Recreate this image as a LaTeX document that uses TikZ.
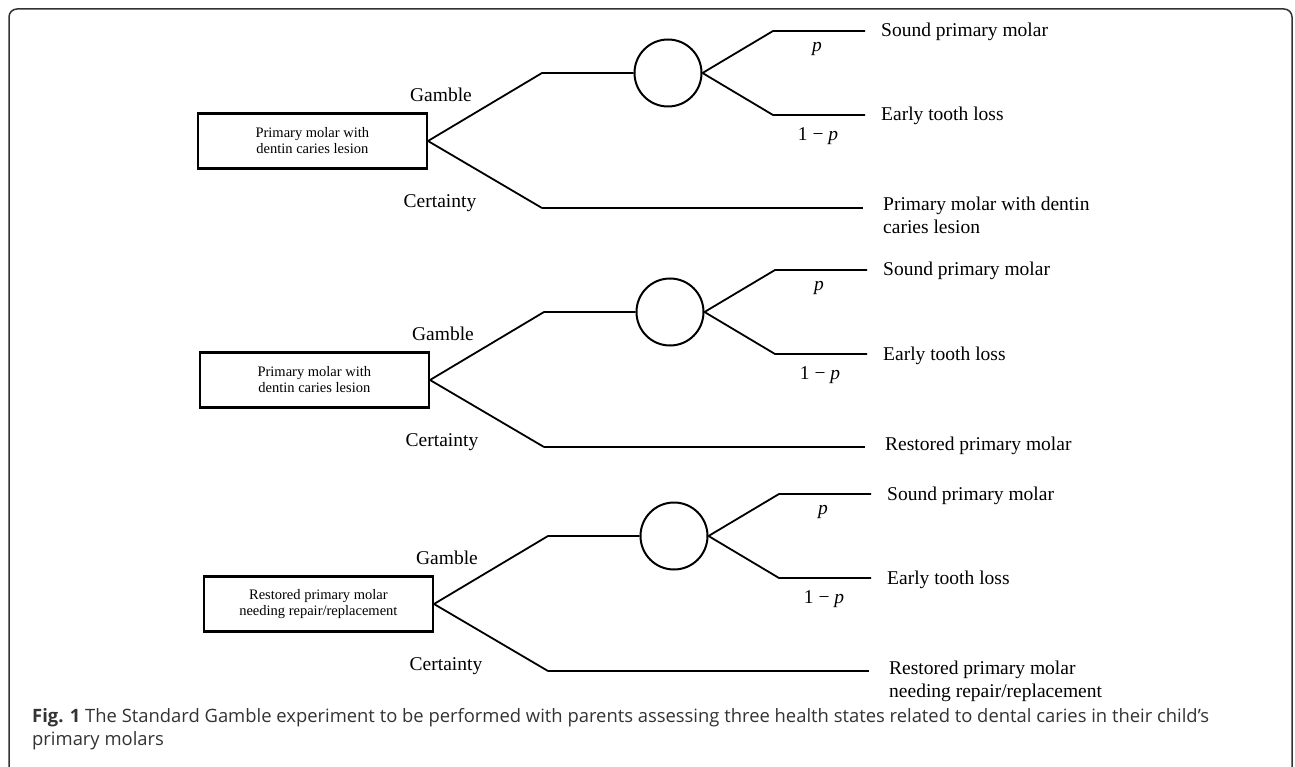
\documentclass[tikz,border=0pt]{standalone}
\usepackage{fontspec}
\setmainfont{Liberation Serif}
\newfontfamily\capfont{Open Sans}
\definecolor{framegray}{HTML}{333333}
\definecolor{captext}{HTML}{333333}
\tikzset{
  br/.style={line width=1.8pt},
  certline/.style={line width=2.6pt},
  statebox/.style={draw, line width=2.3pt, minimum width=229pt, minimum height=55pt,
    inner sep=0pt, align=center, anchor=east, font=\fontsize{14.5}{16}\selectfont},
  chance/.style={draw, circle, line width=2pt, minimum size=67pt, inner sep=0pt},
  lab/.style={font=\fontsize{19.5}{23}\selectfont, inner sep=0pt},
  outlab/.style={lab, anchor=base west, align=left},
}
% #1 id, #2 bx, #3 by, #4 box text, #5 certainty outcome, #6 extra lines offset
\newcommand\sgtree[6]{%
  \node[statebox] (#1box) at (#2,#3) {#4};
  \coordinate (#1ge) at ({#2+114},{#3-68});
  \coordinate (#1ce) at ({#2+114},{#3+67});
  \node[chance] (#1c) at ({#2+240},{#3-68}) {};
  \coordinate (#1ue) at ({#2+345},{#3-110});
  \coordinate (#1uend) at ({#2+437},{#3-110});
  \coordinate (#1le) at ({#2+345},{#3-26});
  \coordinate (#1lend) at ({#2+437},{#3-26});
  \coordinate (#1cend) at ({#2+435},{#3+67});
  \draw[br] (#1box.east) -- (#1ge) -- (#1c.west);
  \draw[br] (#1box.east) -- (#1ce);
  \draw[certline] (#1ce) -- (#1cend);
  \draw[br] (#1c.east) -- (#1ue) -- (#1uend);
  \draw[br] (#1c.east) -- (#1le) -- (#1lend);
  \node[lab] (#1gl) at ({#2+13},{#3-46}) {Gamble};
  \node[lab] (#1cl) at ({#2+12},{#3+62}) {Certainty};
  \node[lab] (#1p) at ({#2+389},{#3-92}) {\textit{p}};
  \node[lab] (#1q) at ({#2+390},{#3-5}) {1 − \textit{p}};
  \node[outlab] (#1s) at ({#2+453},{#3-104}) {Sound primary molar};
  \node[outlab] (#1e) at ({#2+453},{#3-20}) {Early tooth loss};
  \node[outlab] (#1o) at ({#2+455},{#3+70+#6}) {#5};
}
\begin{document}
\begin{tikzpicture}[x=1pt,y=-1pt]
  \useasboundingbox (0,0) rectangle (1295,767);
  \fill[white] (0,0) rectangle (1295,767);
  \draw[framegray, line width=1.5pt, rounded corners=8pt]
    (9,775) -- (9,9) -- (1292,9) -- (1292,775);
  \sgtree{a}{428}{141}{Primary molar with\\dentin caries lesion}{Primary molar with dentin\\caries lesion}{23}
  \sgtree{b}{430}{380}{Primary molar with\\dentin caries lesion}{Restored primary molar}{0}
  \sgtree{c}{434}{604}{Restored primary molar\\needing repair/replacement}{Restored primary molar\\needing repair/replacement}{23}
  \node[anchor=base west, align=left, inner sep=0pt, text=captext,
        font=\capfont\fontsize{18.4}{23}\selectfont] (cap) at (32,745)
    {\textbf{Fig. 1} The Standard Gamble experiment to be performed with parents assessing three health states related to dental caries in their child’s\\primary molars};
\end{tikzpicture}
\end{document}
